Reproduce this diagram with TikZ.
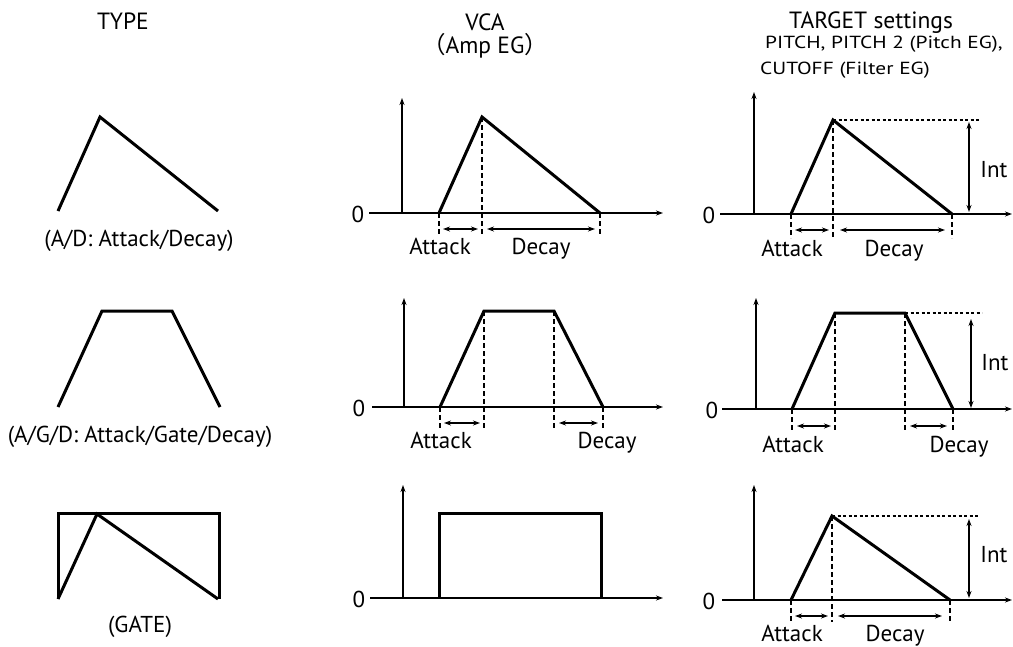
\documentclass[tikz,border=0pt]{standalone}
\usepackage{fontspec}
\setmainfont{PT Sans}
\newfontfamily\cjk{Noto Sans CJK JP}
\newfontfamily\widefont[FakeStretch=1.22]{PT Sans}
\usetikzlibrary{arrows.meta}
\begin{document}
\begin{tikzpicture}[x=1pt,y=-1pt,
  axisline/.style={line width=1.3pt,-{Stealth[length=7pt,width=5pt]}},
  env/.style={line width=3pt,line join=miter},
  guide/.style={line width=1.2pt,dash pattern=on 5pt off 3pt},
  dotln/.style={line width=1.1pt,dash pattern=on 3pt off 2.5pt},
  span/.style={line width=1.1pt,{Stealth[length=7pt,width=5pt]}-{Stealth[length=7pt,width=5pt]}},
  intarrow/.style={line width=1.2pt,{Stealth[length=7pt,width=5pt]}-{Stealth[length=7pt,width=5pt]}},
  lbl/.style={font=\fontsize{23}{26}\selectfont,inner sep=0pt},
  hdr/.style={font=\fontsize{23.5}{27}\selectfont,inner sep=0pt},
  sub/.style={font=\widefont\fontsize{17.5}{20}\selectfont,inner sep=0pt}]
\useasboundingbox (0,0) rectangle (1013,646);

% ---------- headers ----------
\node[hdr,anchor=base] (hType) at (123,29) {TYPE};
\node[hdr,anchor=base] (hVca) at (485,30) {VCA};
\node[hdr,anchor=base] (hAmp) at (485,53) {{\cjk （}Amp EG{\cjk ）}};
\node[hdr,anchor=base] (hTarget) at (871,28) {TARGET settings};
\node[sub,anchor=base west] (hPitch) at (765,48) {PITCH, PITCH 2 (Pitch EG),};
\node[sub,anchor=base west] (hCut) at (760,74) {CUTOFF (Filter EG)};

% ---------- TYPE column ----------
\coordinate (t1a) at (58,211); \coordinate (t1p) at (100,117); \coordinate (t1d) at (218,211);
\draw[env] (t1a) -- (t1p) -- (t1d);
\node[lbl,anchor=base] (t1lbl) at (139,246) {(A/D: Attack/Decay)};

\coordinate (t2a) at (58,407); \coordinate (t2p) at (102,311); \coordinate (t2q) at (172,311); \coordinate (t2d) at (220,407);
\draw[env] (t2a) -- (t2p) -- (t2q) -- (t2d);
\node[lbl,anchor=base] (t2lbl) at (140,442) {(A/G/D: Attack/Gate/Decay)};

\coordinate (t3bl) at (58,599); \coordinate (t3tl) at (58,513); \coordinate (t3tr) at (219,513); \coordinate (t3br) at (219,599);
\coordinate (t3p) at (97,514); \coordinate (t3d) at (218,599);
\draw[env] (t3bl) -- (t3tl) -- (t3tr) -- (t3br);
\draw[env] (t3bl) -- (t3p) -- (t3d);
\node[lbl,anchor=base] (t3lbl) at (140,632) {(GATE)};

% ---------- VCA row 1 ----------
\coordinate (v1o) at (402,213); \coordinate (v1top) at (402,98);
\coordinate (v1l) at (369,213); \coordinate (v1r) at (663,213);
\node[lbl] (v1zero) at (358,214) {0};
\draw[axisline] (v1o) -- (v1top);
\draw[axisline] (v1l) -- (v1r);
\coordinate (v1a) at (439,213); \coordinate (v1p) at (482,117); \coordinate (v1d) at (600,213);
\coordinate (v1ag) at (439,235); \coordinate (v1pg) at (482,235); \coordinate (v1dg) at (600,235);
\draw[guide] (v1a) -- (v1ag); \draw[guide] (v1p) -- (v1pg); \draw[guide] (v1d) -- (v1dg);
\draw[env] (v1a) -- (v1p) -- (v1d);
\coordinate (v1s1) at (443,229); \coordinate (v1s2) at (478,229);
\coordinate (v1s3) at (487,229); \coordinate (v1s4) at (595,229);
\draw[span] (v1s1) -- (v1s2); \draw[span] (v1s3) -- (v1s4);
\node[lbl,anchor=base] (v1att) at (440,254) {Attack};
\node[lbl,anchor=base] (v1dec) at (541,254) {Decay};

% ---------- VCA row 2 ----------
\coordinate (v2o) at (404,407); \coordinate (v2top) at (404,298);
\coordinate (v2l) at (372,407); \coordinate (v2r) at (663,407);
\node[lbl] (v2zero) at (359,408) {0};
\draw[axisline] (v2o) -- (v2top);
\draw[axisline] (v2l) -- (v2r);
\coordinate (v2a) at (440,407); \coordinate (v2p) at (484,311); \coordinate (v2q) at (554,311); \coordinate (v2d) at (603,407);
\coordinate (v2ag) at (440,429); \coordinate (v2pg) at (484,429); \coordinate (v2qg) at (554,429); \coordinate (v2dg) at (603,429);
\draw[guide] (v2a) -- (v2ag); \draw[guide] (v2p) -- (v2pg); \draw[guide] (v2q) -- (v2qg); \draw[guide] (v2d) -- (v2dg);
\draw[env] (v2a) -- (v2p) -- (v2q) -- (v2d);
\coordinate (v2s1) at (444,423); \coordinate (v2s2) at (480,423);
\coordinate (v2s3) at (559,423); \coordinate (v2s4) at (598,423);
\draw[span] (v2s1) -- (v2s2); \draw[span] (v2s3) -- (v2s4);
\node[lbl,anchor=base] (v2att) at (441,448) {Attack};
\node[lbl,anchor=base] (v2dec) at (607,448) {Decay};

% ---------- VCA row 3 ----------
\coordinate (v3o) at (403,598); \coordinate (v3top) at (403,485);
\coordinate (v3l) at (370,598); \coordinate (v3r) at (663,598);
\node[lbl] (v3zero) at (359,599) {0};
\draw[axisline] (v3o) -- (v3top);
\draw[axisline] (v3l) -- (v3r);
\coordinate (v3a) at (439,598); \coordinate (v3b) at (439,513); \coordinate (v3c) at (601,513); \coordinate (v3d) at (601,598);
\draw[env] (v3a) -- (v3b) -- (v3c) -- (v3d);

% ---------- TARGET row 1 ----------
\coordinate (g1o) at (754,214); \coordinate (g1top) at (754,92);
\coordinate (g1l) at (720,214); \coordinate (g1r) at (1012,214);
\node[lbl] (g1zero) at (709,215) {0};
\draw[axisline] (g1o) -- (g1top);
\draw[axisline] (g1l) -- (g1r);
\coordinate (g1a) at (791,214); \coordinate (g1p) at (833,120); \coordinate (g1d) at (952,214);
\coordinate (g1ag) at (791,238); \coordinate (g1pg) at (833,238); \coordinate (g1dg) at (952,238);
\coordinate (g1h) at (980,120);
\draw[guide] (g1a) -- (g1ag); \draw[guide] (g1p) -- (g1pg); \draw[guide] (g1d) -- (g1dg);
\draw[dotln] (g1p) -- (g1h);
\draw[env] (g1a) -- (g1p) -- (g1d);
\coordinate (g1i1) at (969,122); \coordinate (g1i2) at (969,212);
\draw[intarrow] (g1i1) -- (g1i2);
\node[lbl] (g1int) at (994,170) {Int};
\coordinate (g1s1) at (795,230); \coordinate (g1s2) at (829,230);
\coordinate (g1s3) at (840,230); \coordinate (g1s4) at (945,230);
\draw[span] (g1s1) -- (g1s2); \draw[span] (g1s3) -- (g1s4);
\node[lbl,anchor=base] (g1att) at (792,256) {Attack};
\node[lbl,anchor=base] (g1dec) at (894,256) {Decay};

% ---------- TARGET row 2 ----------
\coordinate (g2o) at (756,409); \coordinate (g2top) at (756,298);
\coordinate (g2l) at (722,409); \coordinate (g2r) at (1012,409);
\node[lbl] (g2zero) at (712,410) {0};
\draw[axisline] (g2o) -- (g2top);
\draw[axisline] (g2l) -- (g2r);
\coordinate (g2a) at (792,409); \coordinate (g2p) at (835,313); \coordinate (g2q) at (905,313); \coordinate (g2d) at (953,409);
\coordinate (g2ag) at (792,432); \coordinate (g2pg) at (835,432); \coordinate (g2qg) at (905,432); \coordinate (g2dg) at (953,432);
\coordinate (g2h) at (982,313);
\draw[guide] (g2a) -- (g2ag); \draw[guide] (g2p) -- (g2pg); \draw[guide] (g2q) -- (g2qg); \draw[guide] (g2d) -- (g2dg);
\draw[dotln] (g2q) -- (g2h);
\draw[env] (g2a) -- (g2p) -- (g2q) -- (g2d);
\coordinate (g2i1) at (971,319); \coordinate (g2i2) at (971,408);
\draw[intarrow] (g2i1) -- (g2i2);
\node[lbl] (g2int) at (995,363) {Int};
\coordinate (g2s1) at (797,426); \coordinate (g2s2) at (831,426);
\coordinate (g2s3) at (910,426); \coordinate (g2s4) at (947,426);
\draw[span] (g2s1) -- (g2s2); \draw[span] (g2s3) -- (g2s4);
\node[lbl,anchor=base] (g2att) at (793,452) {Attack};
\node[lbl,anchor=base] (g2dec) at (959,452) {Decay};

% ---------- TARGET row 3 ----------
\coordinate (g3o) at (754,600); \coordinate (g3top) at (754,485);
\coordinate (g3l) at (722,600); \coordinate (g3r) at (1012,600);
\node[lbl] (g3zero) at (709,601) {0};
\draw[axisline] (g3o) -- (g3top);
\draw[axisline] (g3l) -- (g3r);
\coordinate (g3a) at (791,600); \coordinate (g3p) at (832,516); \coordinate (g3d) at (950,600);
\coordinate (g3ag) at (791,622); \coordinate (g3pg) at (832,622); \coordinate (g3dg) at (950,622);
\coordinate (g3h) at (980,516);
\draw[guide] (g3a) -- (g3ag); \draw[guide] (g3p) -- (g3pg); \draw[guide] (g3d) -- (g3dg);
\draw[dotln] (g3p) -- (g3h);
\draw[env] (g3a) -- (g3p) -- (g3d);
\coordinate (g3i1) at (969,519); \coordinate (g3i2) at (969,598);
\draw[intarrow] (g3i1) -- (g3i2);
\node[lbl] (g3int) at (994,555) {Int};
\coordinate (g3s1) at (795,616); \coordinate (g3s2) at (828,616);
\coordinate (g3s3) at (838,616); \coordinate (g3s4) at (942,616);
\draw[span] (g3s1) -- (g3s2); \draw[span] (g3s3) -- (g3s4);
\node[lbl,anchor=base] (g3att) at (792,641) {Attack};
\node[lbl,anchor=base] (g3dec) at (895,641) {Decay};
\end{tikzpicture}
\end{document}
